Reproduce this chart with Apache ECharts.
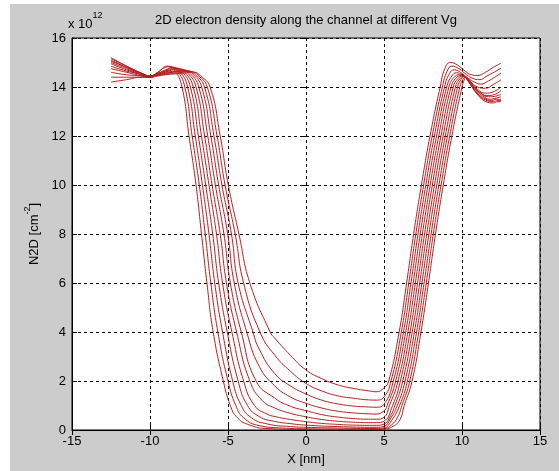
<!DOCTYPE html>
<html lang="en">
<head>
    <meta charset="UTF-8">
    <title>2D electron density along the channel</title>
    <script src="https://cdn.jsdelivr.net/npm/echarts@6/dist/echarts.min.js"></script>
    <style>
        html, body { margin: 0; padding: 0; background: #ffffff; }
        #chart {
            position: absolute;
            left: 10px;
            top: 4px;
            width: 549px;
            height: 467px;
            background: #cccccc;
        }
    </style>
</head>
<body>
    <div id="chart"></div>

    <script>
        // N2D (x 1e12 cm^-2) along the channel, one curve per gate voltage, [x nm, n2d]
        var vg01 = [[-12.5,15.2],[-11.5,14.85],[-10.5,14.55],[-10,14.45],[-9.5,14.6],[-8.9,14.85],[-8.45,14.7],[-7.95,14],[-7.5,12],[-7.05,10],[-6.7,8],[-6.35,6],[-5.95,4],[-5.3,2],[-4.85,1],[-4.4,0.5],[-3.6,0.2],[-2.5,0.06],[0,0.02],[4.5,0.01],[5,0.03],[5.5,0.12],[6,0.4],[6.3,1],[6.8,2],[7.37,4],[7.85,6],[8.3,8],[8.8,10],[9.35,12],[10,14],[10.15,14.3],[10.25,14.4],[10.6,14.05],[11.05,13.65],[11.55,13.4],[12,13.35],[12.3,13.4],[12.5,13.4]];
        var vg02 = [[-12.5,15.15],[-11.5,14.85],[-10.5,14.55],[-10,14.45],[-9.5,14.6],[-9.1,14.78],[-8.73,14.83],[-8.28,14.68],[-7.77,14],[-7.3,12],[-6.84,10],[-6.46,8],[-6.1,6],[-5.65,4],[-5.0,2],[-4.5,1],[-4.0,0.5],[-3,0.18],[-1.5,0.08],[0,0.05],[4.5,0.03],[5,0.05],[5.5,0.22],[5.85,0.5],[6.15,1],[6.65,2],[7.23,4],[7.71,6],[8.16,8],[8.66,10],[9.21,12],[9.86,14],[10.05,14.3],[10.2,14.4],[10.55,14.1],[11,13.72],[11.5,13.47],[12,13.4],[12.3,13.45],[12.5,13.45]];
        var vg03 = [[-12.5,15.1],[-11.5,14.8],[-10.5,14.55],[-10,14.45],[-9.5,14.55],[-9,14.7],[-8.56,14.8],[-8.11,14.65],[-7.59,14],[-7.1,12],[-6.64,10],[-6.22,8],[-5.85,6],[-5.35,4],[-4.7,2],[-4.15,1],[-3.5,0.5],[-2.5,0.25],[-1,0.14],[0,0.11],[2,0.08],[4.5,0.06],[5,0.09],[5.5,0.4],[6,1],[6.5,2],[7.09,4],[7.57,6],[8.02,8],[8.52,10],[9.07,12],[9.72,14],[9.95,14.32],[10.15,14.42],[10.5,14.15],[10.9,13.8],[11.4,13.55],[11.9,13.45],[12.2,13.5],[12.5,13.5]];
        var vg04 = [[-12.5,15.05],[-11.5,14.8],[-10.5,14.5],[-10,14.42],[-9.5,14.55],[-9,14.68],[-8.39,14.78],[-7.94,14.63],[-7.41,14],[-6.9,12],[-6.43,10],[-5.98,8],[-5.6,6],[-5.05,4],[-4.35,2],[-3.75,1],[-3,0.55],[-2,0.35],[-1,0.26],[0,0.2],[2,0.14],[4.5,0.11],[5,0.15],[5.4,0.45],[5.85,1],[6.35,2],[6.95,4],[7.43,6],[7.88,8],[8.38,10],[8.93,12],[9.58,14],[9.85,14.33],[10.1,14.43],[10.45,14.2],[10.9,13.85],[11.3,13.65],[11.8,13.5],[12.2,13.55],[12.5,13.6]];
        var vg05 = [[-12.5,15.0],[-11.5,14.75],[-10.5,14.5],[-10,14.42],[-9.5,14.55],[-9,14.65],[-8.22,14.75],[-7.77,14.6],[-7.23,14],[-6.7,12],[-6.22,10],[-5.74,8],[-5.35,6],[-4.75,4],[-4,2],[-3.3,1],[-2.5,0.65],[-2,0.55],[-1,0.43],[0,0.34],[1,0.27],[2,0.23],[3,0.2],[4.5,0.19],[5,0.24],[5.35,0.5],[5.7,1],[6.2,2],[6.81,4],[7.29,6],[7.74,8],[8.24,10],[8.79,12],[9.44,14],[9.75,14.35],[10.05,14.45],[10.4,14.25],[10.8,13.95],[11.2,13.75],[11.7,13.6],[12.1,13.62],[12.5,13.7]];
        var vg06 = [[-12.5,14.95],[-11.5,14.7],[-10.5,14.5],[-10,14.42],[-9.5,14.5],[-9,14.62],[-8.05,14.73],[-7.6,14.58],[-7.05,14],[-6.5,12],[-6.02,10],[-5.5,8],[-5.1,6],[-4.45,4],[-3.6,2],[-2.8,1.2],[-2,0.9],[-1,0.68],[0,0.54],[1,0.43],[2,0.36],[3,0.32],[4,0.3],[4.5,0.3],[5,0.36],[5.55,1],[6.05,2],[6.67,4],[7.15,6],[7.6,8],[8.1,10],[8.65,12],[9.3,14],[9.6,14.35],[9.95,14.47],[10.3,14.35],[10.7,14.05],[11.1,13.8],[11.6,13.65],[12.1,13.7],[12.5,13.85]];
        var vg07 = [[-12.5,14.85],[-11.5,14.65],[-10.5,14.5],[-10,14.4],[-9.5,14.5],[-9,14.6],[-8.4,14.65],[-7.88,14.7],[-7.43,14.55],[-6.87,14],[-6.3,12],[-5.81,10],[-5.26,8],[-4.85,6],[-4.15,4],[-3.2,2],[-2,1.3],[-1,0.97],[0,0.79],[1,0.63],[2,0.53],[3,0.47],[4,0.44],[4.5,0.44],[5,0.52],[5.35,1],[5.9,2],[6.53,4],[7.01,6],[7.46,8],[7.96,10],[8.51,12],[9.16,14],[9.5,14.4],[9.85,14.5],[10.2,14.4],[10.6,14.15],[11,13.9],[11.5,13.75],[12,13.8],[12.5,14.0]];
        var vg08 = [[-12.5,14.75],[-11.5,14.6],[-10.5,14.45],[-10,14.4],[-9.5,14.5],[-9,14.57],[-8.3,14.63],[-7.71,14.68],[-7.26,14.53],[-6.69,14],[-6.1,12],[-5.6,10],[-5.02,8],[-4.6,6],[-3.8,4],[-3,2.6],[-2,1.8],[-1,1.35],[0,1.09],[1,0.9],[2,0.77],[3,0.7],[4,0.66],[4.5,0.65],[5,0.78],[5.2,1],[5.75,2],[6.39,4],[6.87,6],[7.32,8],[7.82,10],[8.37,12],[9.02,14],[9.35,14.45],[9.65,14.58],[10,14.5],[10.5,14.25],[11,14.0],[11.5,13.95],[12,14.1],[12.5,14.29]];
        var vg09 = [[-12.5,14.6],[-11.5,14.5],[-10.5,14.45],[-10,14.4],[-9.5,14.48],[-9,14.55],[-8.3,14.62],[-7.54,14.65],[-7.09,14.5],[-6.51,14],[-5.9,12],[-5.39,10],[-4.78,8],[-4.35,6],[-3.4,4],[-3,3.3],[-2,2.3],[-1,1.8],[0,1.47],[1,1.22],[2,1.07],[3,0.98],[4,0.94],[4.5,0.93],[5,1.05],[5.6,2],[6.25,4],[6.73,6],[7.18,8],[7.68,10],[8.23,12],[8.88,14],[9.2,14.55],[9.5,14.7],[9.9,14.6],[10.4,14.35],[10.8,14.2],[11.2,14.12],[11.7,14.25],[12.1,14.4],[12.5,14.57]];
        var vg10 = [[-12.5,14.4],[-11.5,14.4],[-10.5,14.4],[-10,14.4],[-9.5,14.48],[-9,14.52],[-8.2,14.58],[-7.37,14.63],[-6.92,14.48],[-6.33,14],[-5.7,12],[-5.19,10],[-4.54,8],[-4.0,6],[-2.95,4],[-2,3.05],[-1,2.4],[0,1.9],[1,1.6],[2,1.4],[3,1.3],[4,1.23],[4.5,1.22],[5,1.35],[5.45,2],[6.11,4],[6.59,6],[7.04,8],[7.54,10],[8.09,12],[8.74,14],[9.05,14.65],[9.35,14.85],[9.8,14.75],[10.3,14.5],[10.7,14.35],[11.1,14.3],[11.6,14.45],[12.1,14.62],[12.5,14.77]];
        var vg11 = [[-12.5,14.2],[-11.5,14.3],[-10.5,14.4],[-10,14.4],[-9.5,14.45],[-9,14.5],[-8.1,14.55],[-7.2,14.6],[-6.75,14.45],[-6.15,14],[-5.5,12],[-4.98,10],[-4.3,8],[-3.6,6],[-2.3,4],[-2,3.75],[-1,3.05],[0,2.45],[1,2.1],[2,1.85],[3,1.7],[4,1.6],[4.5,1.56],[5,1.72],[5.3,2],[5.97,4],[6.45,6],[6.9,8],[7.4,10],[7.95,12],[8.6,14],[8.9,14.75],[9.25,15.0],[9.7,14.9],[10.2,14.65],[10.6,14.5],[11,14.47],[11.5,14.6],[12,14.8],[12.5,14.97]];

        var curves = [vg01, vg02, vg03, vg04, vg05, vg06, vg07, vg08, vg09, vg10, vg11];

        var font = 'Liberation Sans, Arial, sans-serif';
        var lineColor = '#b81c1c';

        var chart = echarts.init(document.getElementById('chart'));

        var series = curves.map(function (c) {
            return {
                type: 'line',
                data: c,
                showSymbol: false,
                smooth: 0.5,
                lineStyle: { color: lineColor, width: 1 },
                emphasis: { disabled: true },
                animation: false
            };
        });

        var option = {
            backgroundColor: '#cccccc',
            animation: false,
            grid: {
                left: 62, right: 19, top: 34, bottom: 41,
                show: true,
                backgroundColor: '#ffffff',
                borderColor: '#000000',
                borderWidth: 1
            },
            xAxis: [{
                type: 'value',
                min: -15, max: 15, interval: 5,
                name: 'X [nm]',
                nameLocation: 'middle',
                nameGap: 22,
                nameTextStyle: { color: '#000', fontSize: 13, fontFamily: font },
                axisLine: { onZero: false, lineStyle: { color: '#000', width: 1 } },
                axisTick: { inside: true, length: 5, lineStyle: { color: '#000' } },
                axisLabel: { color: '#000', fontSize: 13, fontFamily: font, margin: 5 },
                splitLine: { show: true, lineStyle: { color: '#000', type: [3, 3], width: 1 } }
            }, {
                type: 'value',
                position: 'top',
                min: -15, max: 15, interval: 5,
                axisLine: { show: false },
                axisTick: { inside: true, length: 5, lineStyle: { color: '#000' } },
                axisLabel: { show: false },
                splitLine: { show: false }
            }],
            yAxis: [{
                type: 'value',
                min: 0, max: 16, interval: 2,
                name: '{a|N2D [cm}{b|-2}{a|]}',
                nameLocation: 'middle',
                nameGap: 30,
                nameTextStyle: {
                    color: '#000', fontFamily: font,
                    rich: {
                        a: { fontSize: 13, fontFamily: font, color: '#000', lineHeight: 18, verticalAlign: 'bottom' },
                        b: { fontSize: 9, fontFamily: font, color: '#000', verticalAlign: 'top' }
                    }
                },
                axisLine: { onZero: false, lineStyle: { color: '#000', width: 1 } },
                axisTick: { inside: true, length: 5, lineStyle: { color: '#000' } },
                axisLabel: { color: '#000', fontSize: 13, fontFamily: font, margin: 6 },
                splitLine: { show: true, lineStyle: { color: '#000', type: [3, 3], width: 1 } }
            }, {
                type: 'value',
                position: 'right',
                min: 0, max: 16, interval: 2,
                axisLine: { show: false },
                axisTick: { inside: true, length: 5, lineStyle: { color: '#000' } },
                axisLabel: { show: false },
                splitLine: { show: false }
            }],
            graphic: [{
                type: 'text',
                left: 58, top: 7,
                style: {
                    text: '{a|x 10}{b|12}',
                    rich: {
                        a: { fontSize: 13, fontFamily: font, fill: '#000', lineHeight: 20, verticalAlign: 'bottom' },
                        b: { fontSize: 9, fontFamily: font, fill: '#000', verticalAlign: 'top' }
                    }
                }
            }, {
                type: 'text',
                x: 296, y: 16,
                style: {
                    text: '2D electron density along the channel at different Vg',
                    font: '13px ' + font,
                    fill: '#000',
                    textAlign: 'center',
                    textVerticalAlign: 'middle'
                }
            }],
            series: series
        };

        chart.setOption(option);
    </script>
</body>
</html>
